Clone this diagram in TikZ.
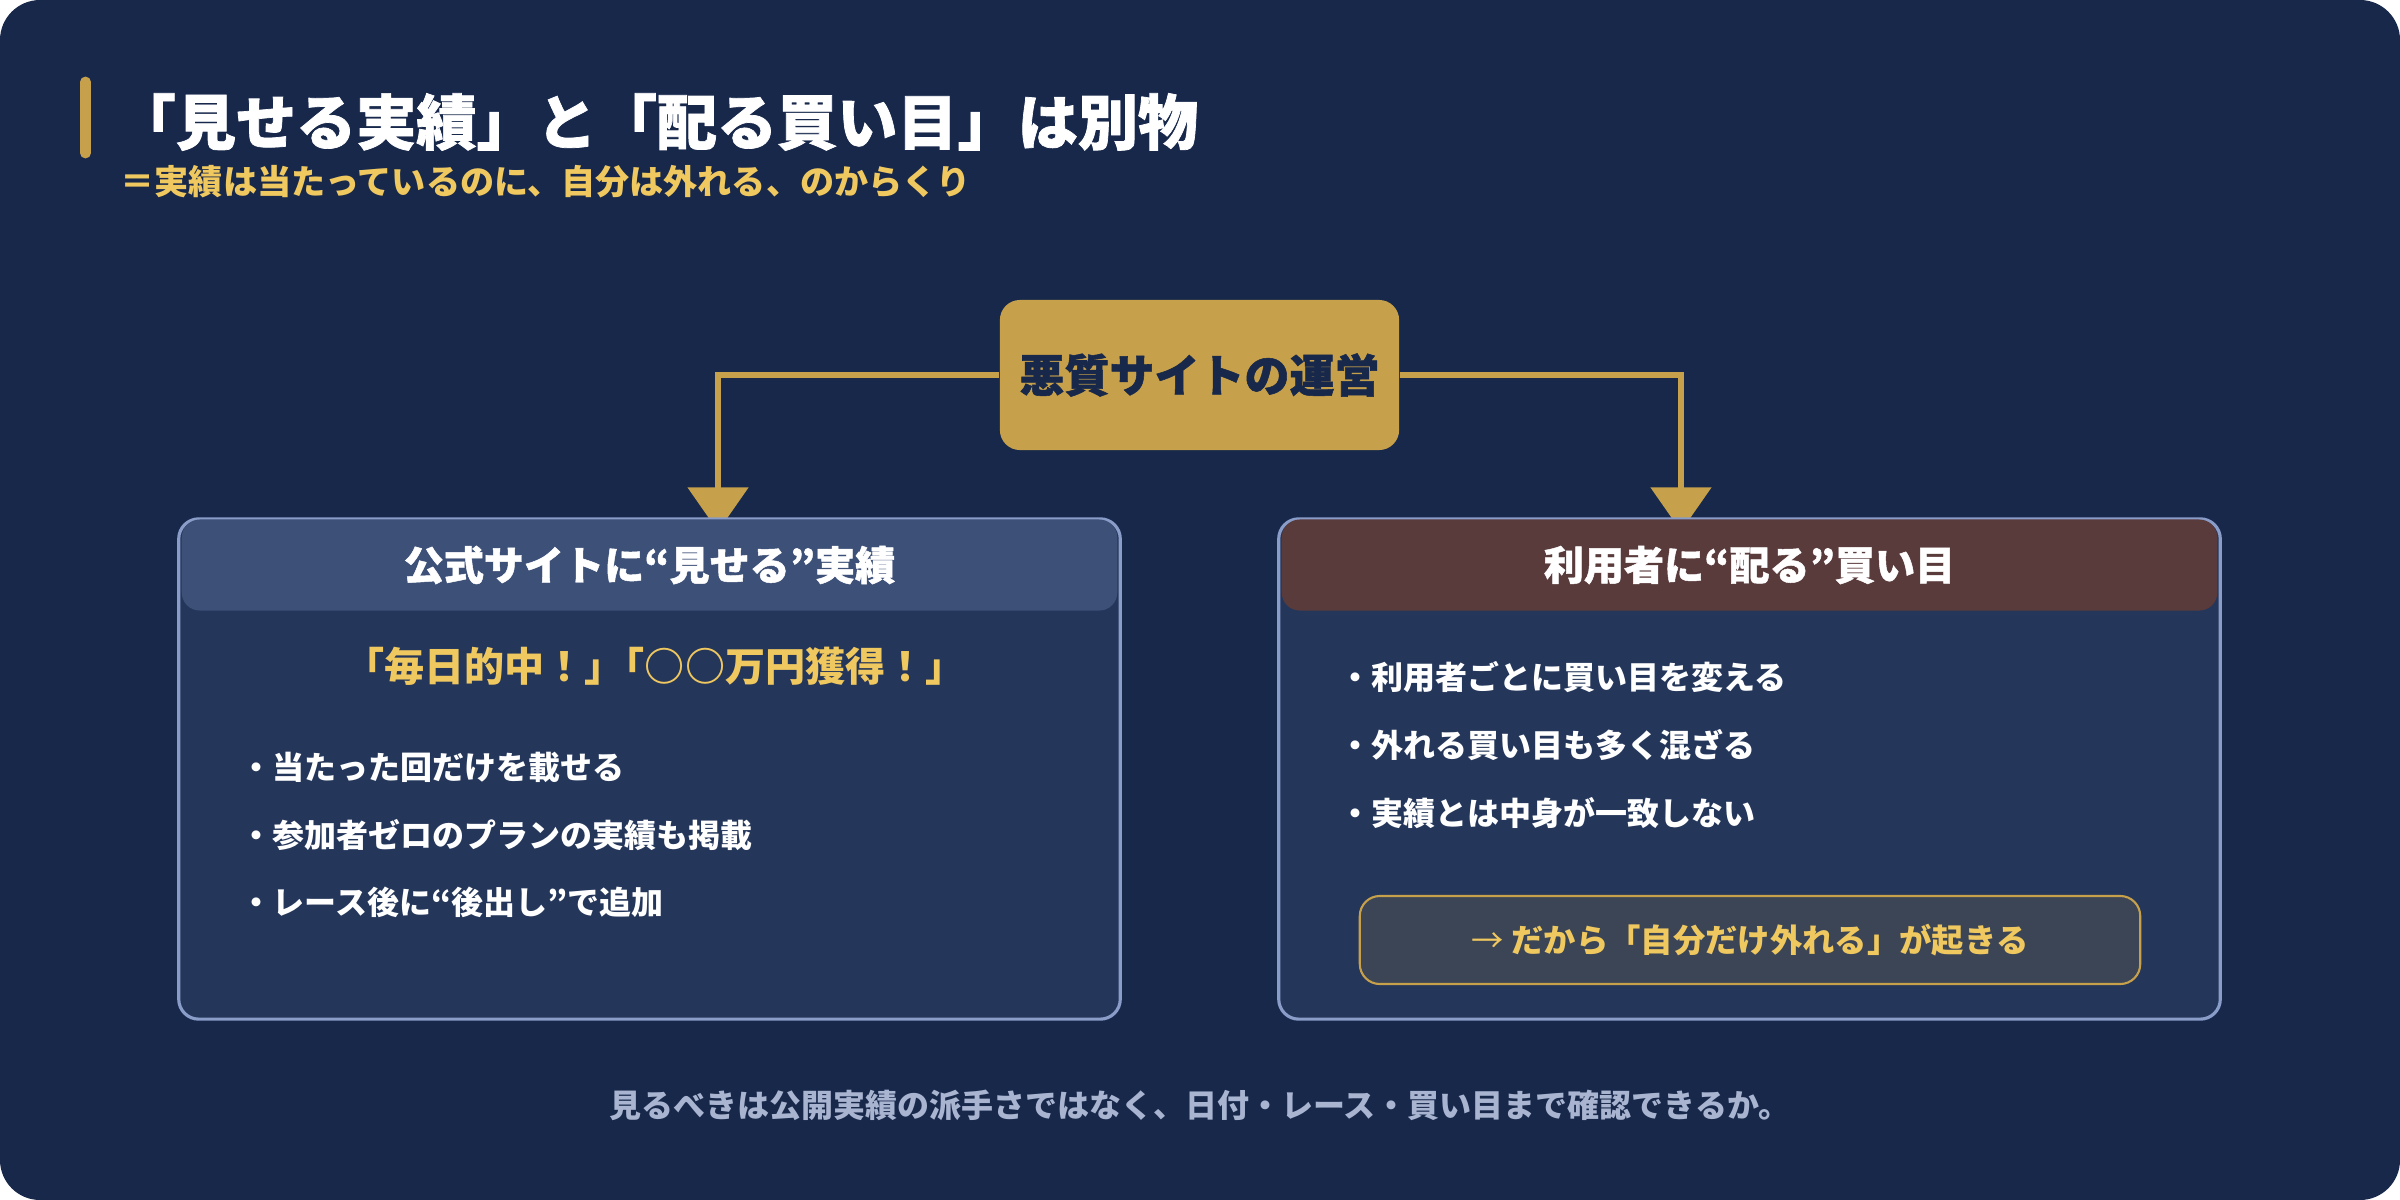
\documentclass[tikz,border=0pt]{standalone}
\usepackage{fontspec}
\setmainfont{Noto Sans CJK JP}
\newfontfamily\heavyfont{Noto Sans CJK JP}[BoldFeatures={FakeBold=1.2}]
\usetikzlibrary{positioning,arrows.meta,backgrounds}
\definecolor{bgnavy}{HTML}{17284B}
\definecolor{gold}{HTML}{C6A04A}
\definecolor{goldtext}{HTML}{F0C860}
\definecolor{panelfill}{HTML}{24365A}
\definecolor{panelline}{HTML}{8A9CC8}
\definecolor{headblue}{HTML}{3D5078}
\definecolor{headbrown}{HTML}{5A3B3C}
\definecolor{notegray}{HTML}{3B4556}
\definecolor{footgray}{HTML}{A9B4D0}
\tikzset{
  panel/.style={draw=panelline, line width=0.9pt, fill=panelfill, rounded corners=0.2cm, minimum width=9.41cm, minimum height=5cm, inner sep=0pt},
  phead/.style={rounded corners=0.18cm, minimum width=9.35cm, minimum height=0.91cm, text=white, font=\heavyfont\bfseries\fontsize{11.4}{13}\selectfont, inner sep=0pt},
  bullet/.style={anchor=west, text=white, font=\bfseries\fontsize{9.1}{11}\selectfont, inner sep=0pt},
  link/.style={gold, line width=1.55pt, -{Triangle[width=0.6cm,length=0.44cm]}},
}
\begin{document}
\begin{tikzpicture}[x=0.01cm,y=-0.01cm]
\useasboundingbox (0,0) rectangle (2400,1200);
\begin{pgfonlayer}{background}
\fill[bgnavy, rounded corners=0.4cm] (0,0) rectangle (2400,1200);
\end{pgfonlayer}
\draw[gold, line width=3.1pt, line cap=round] (85.5,82) -- (85.5,153);
\node[anchor=west, text=white, font=\heavyfont\bfseries\fontsize{17.1}{20}\selectfont, inner sep=0pt] (title) at (115,122) {「見せる実績」と「配る買い目」は別物};
\node[anchor=west, text=goldtext, font=\bfseries\fontsize{9.7}{11}\selectfont, inner sep=0pt] (subtitle) at (120,182) {＝実績は当たっているのに、自分は外れる、のからくり};

\node[fill=gold, rounded corners=0.2cm, minimum width=3.99cm, minimum height=1.5cm, text=bgnavy, font=\heavyfont\bfseries\fontsize{12.8}{15}\selectfont] (op) at (1199.5,375) {悪質サイトの運営};

\node[panel] (lbox) at (649.5,769) {};
\node[panel] (rbox) at (1749.5,769) {};
\node[phead, fill=headblue, below=0.015cm of lbox.north] (lhead) {公式サイトに“見せる”実績};
\node[phead, fill=headbrown, below=0.015cm of rbox.north] (rhead) {利用者に“配る”買い目};

\begin{pgfonlayer}{background}
\draw[link] (op.west) -| ([xshift=0.685cm, yshift=-0.14cm]lbox.north);
\draw[link] (op.east) -| ([xshift=-0.685cm, yshift=-0.14cm]rbox.north);
\end{pgfonlayer}

\node[text=goldtext, font=\bfseries\fontsize{11.4}{13}\selectfont, inner sep=0pt] (claim) at (655,666) {「毎日的中！」\kern-0.5em「○○万円獲得！」};
\node[bullet] (l1) at (240,767) {・当たった回だけを載せる};
\node[bullet] (l2) at (240,835) {・参加者ゼロのプランの実績も掲載};
\node[bullet] (l3) at (240,902) {・レース後に“後出し”で追加};

\node[bullet] (r1) at (1339,677) {・利用者ごとに買い目を変える};
\node[bullet] (r2) at (1339,745) {・外れる買い目も多く混ざる};
\node[bullet] (r3) at (1339,813) {・実績とは中身が一致しない};

\node[fill=notegray, draw=gold, line width=0.6pt, rounded corners=0.2cm, minimum width=7.8cm, minimum height=0.88cm, text=goldtext, font=\bfseries\fontsize{9.2}{11}\selectfont] (note) at (1750,940) {{\mdseries →} だから「自分だけ外れる」が起きる};

\node[text=footgray, font=\bfseries\fontsize{9.1}{11}\selectfont, inner sep=0pt] (foot) at (1200,1105) {見るべきは公開実績の派手さではなく、日付・レース・買い目まで確認できるか。};
\end{tikzpicture}
\end{document}
